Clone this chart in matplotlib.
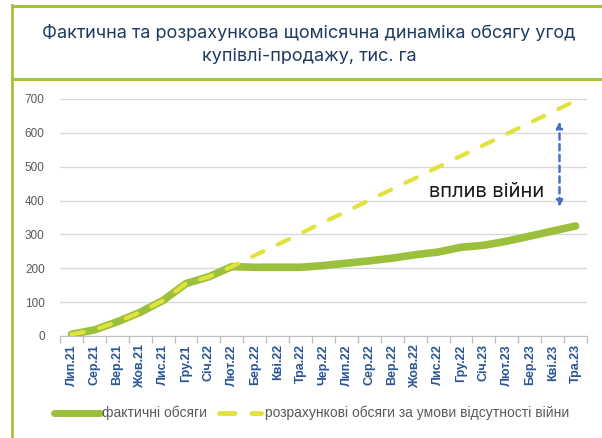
import matplotlib
matplotlib.use("Agg")
import matplotlib.pyplot as plt
from matplotlib.lines import Line2D
from matplotlib.patches import FancyArrowPatch

months = ["Лип.21", "Сер.21", "Вер.21", "Жов.21", "Лис.21", "Гру.21", "Січ.22", "Лют.22",
          "Бер.22", "Кві.22", "Тра.22", "Чер.22", "Лип.22", "Сер.22", "Вер.22", "Жов.22",
          "Лис.22", "Гру.22", "Січ.23", "Лют.23", "Бер.23", "Кві.23", "Тра.23"]
actual = [5, 18, 42, 70, 105, 155, 175, 205, 203, 203, 203, 208, 215, 222, 230, 240,
          248, 262, 268, 280, 295, 310, 325]
projected = [5, 18, 42, 70, 105, 155, 175, 205, 238, 270, 303, 336, 368, 401, 434, 466,
             499, 532, 564, 597, 630, 662, 695]
yticks = [0, 100, 200, 300, 400, 500, 600, 700]

title = "Фактична та розрахункова щомісячна динаміка обсягу угод\nкупівлі-продажу, тис. га"
annot = "вплив війни"
leg_actual = "фактичні обсяги"
leg_proj = "розрахункові обсяги за умови відсутності війни"

GREEN = "#9BC13C"
YELLOW = "#E1E33C"
BORDER = "#A3C43A"
W, H = 602, 438

fig = plt.figure(figsize=(W / 100, H / 100), dpi=100)
fig.patch.set_facecolor("white")

def fx(x): return x / W
def fy(y): return 1 - y / H
fig.add_artist(Line2D([fx(12), fx(12)], [fy(5), fy(438)], color=BORDER, lw=2))
fig.add_artist(Line2D([fx(12), fx(602)], [fy(5.5), fy(5.5)], color=BORDER, lw=2.2))
fig.add_artist(Line2D([fx(12), fx(602)], [fy(79), fy(79)], color=BORDER, lw=2.2))

fig.text(fx(309), fy(45), title, ha="center", va="center", fontsize=13,
         color="#1F3B63", family="Inter", linespacing=1.5)

ax = fig.add_axes([fx(60), fy(336), fx(587 - 60), (336 - 99) / H])
x = list(range(len(months)))
ax.plot(x, actual, color=GREEN, lw=5.5, solid_capstyle="round", solid_joinstyle="round", zorder=3)
ax.plot(x, projected, color=YELLOW, lw=3, dashes=(3, 3.8), dash_capstyle="round",
        zorder=4, clip_on=False)

ax.set_xlim(-0.5, len(months) - 0.5)
ax.set_ylim(0, 700)
ax.set_yticks(yticks)
ax.set_yticklabels([str(v) for v in yticks], fontsize=8.5, color="#595959", family="Liberation Sans")
ax.yaxis.grid(True, color="#D9D9D9", lw=1)
ax.set_axisbelow(True)
ax.tick_params(axis="y", length=0, pad=11)

ax.set_xticks(x)
ax.set_xticklabels(months, rotation=90, fontsize=9, color="#2A5596", fontweight="bold",
                   family="Liberation Sans")
ax.set_xticks([i + 0.5 for i in range(-1, len(months))], minor=True)
ax.tick_params(axis="x", which="major", length=0, pad=6)
ax.tick_params(axis="x", which="minor", length=5, color="#BFBFBF", width=1)
for s in ["top", "right", "left"]:
    ax.spines[s].set_visible(False)
ax.spines["bottom"].set_color("#BFBFBF")

arr = FancyArrowPatch((21.3, 373), (21.3, 642), arrowstyle="<|-|>", mutation_scale=9,
                      color="#4472C4", lw=1.8, linestyle=(0, (2.5, 1.8)), clip_on=False)
ax.add_patch(arr)
ax.text(20.65, 424, annot, ha="right", va="center", fontsize=14.5, color="#1A1A1A",
        family="Inter")

fig.add_artist(Line2D([fx(54), fx(100)], [fy(413), fy(413)], color=GREEN, lw=5,
                      solid_capstyle="round"))
fig.text(fx(102), fy(413), leg_actual, ha="left", va="center", fontsize=10,
         color="#595959", family="Liberation Sans")
fig.add_artist(Line2D([fx(219), fx(261)], [fy(413), fy(413)], color=YELLOW, lw=3.5,
                      dashes=(3.2, 3.5), dash_capstyle="round"))
fig.text(fx(265), fy(413), leg_proj, ha="left", va="center", fontsize=10,
         color="#595959", family="Liberation Sans")

fig.savefig("out.png", dpi=100, facecolor="white")
